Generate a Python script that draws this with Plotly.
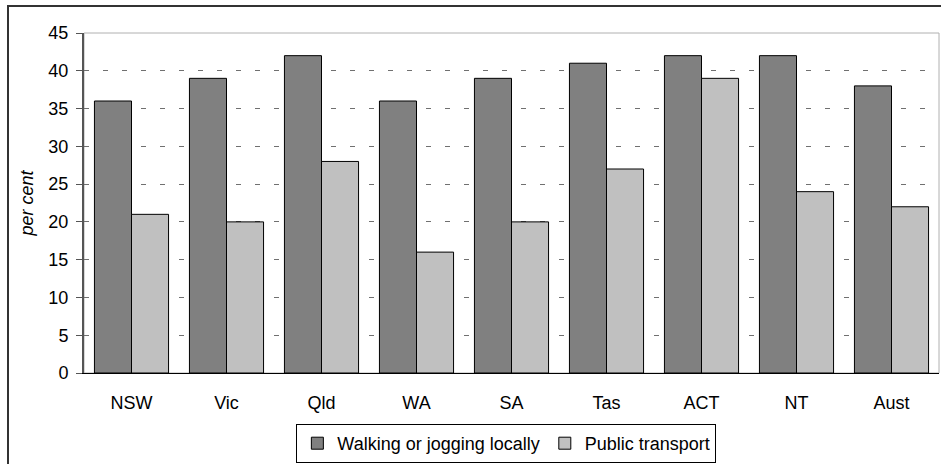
import plotly.graph_objects as go

states = ["NSW", "Vic", "Qld", "WA", "SA", "Tas", "ACT", "NT", "Aust"]
walking = [36, 39, 42, 36, 39, 41, 42, 42, 38]
public_transport = [21, 20, 28, 16, 20, 27, 39, 24, 22]
y_ticks = [0, 5, 10, 15, 20, 25, 30, 35, 40, 45]

W, H = 941, 464
L, R, T, B = 84, 2, 33, 90
pw, ph = W - L - R, H - T - B


def px_x(x):
    return (x - L) / pw


def px_y(y):
    return (H - B - y) / ph


fig = go.Figure()
fig.add_trace(go.Bar(
    x=states, y=walking, name="Walking or jogging locally",
    marker=dict(color="#808080", line=dict(color="#000000", width=1)),
))
fig.add_trace(go.Bar(
    x=states, y=public_transport, name="Public transport",
    marker=dict(color="#c0c0c0", line=dict(color="#000000", width=1)),
))

# plot-area frame and outer chart frame
fig.add_shape(type="rect", xref="paper", yref="paper", x0=0, x1=1, y0=0, y1=1,
              line=dict(color="#b0b0b0", width=1), layer="below")
fig.add_shape(type="rect", xref="paper", yref="paper",
              x0=px_x(8), x1=px_x(946), y0=px_y(480), y1=px_y(6),
              line=dict(color="#333333", width=2))

fig.update_layout(
    width=W, height=H,
    margin=dict(l=L, r=R, t=T, b=B),
    paper_bgcolor="white", plot_bgcolor="white",
    barmode="group", bargap=0.22, bargroupgap=0,
    font=dict(family="Arial, Liberation Sans, sans-serif", size=18, color="#000"),
    showlegend=True,
    legend=dict(
        orientation="h", x=0.494, xanchor="center", y=px_y(424), yanchor="top",
        bordercolor="#000000", borderwidth=1, font=dict(size=18),
        itemwidth=30, tracegroupgap=0,
    ),
    xaxis=dict(
        showline=True, linecolor="#000000", linewidth=1,
        ticks="", ticklabelstandoff=13, showgrid=False,
    ),
    yaxis=dict(
        range=[0, 45], tickvals=y_ticks, showline=True, linecolor="#555555",
        linewidth=2, ticks="outside", ticklen=6, tickcolor="#555555",
        ticklabelstandoff=4,
        showgrid=True, gridcolor="#707070", gridwidth=1, griddash="5px,14px",
        zeroline=False,
        title=dict(text="<i>per cent</i>", standoff=10, font=dict(size=18)),
    ),
)

fig.write_html("out.html", config={"displayModeBar": False},
               post_script="document.body.style.margin='0';")
